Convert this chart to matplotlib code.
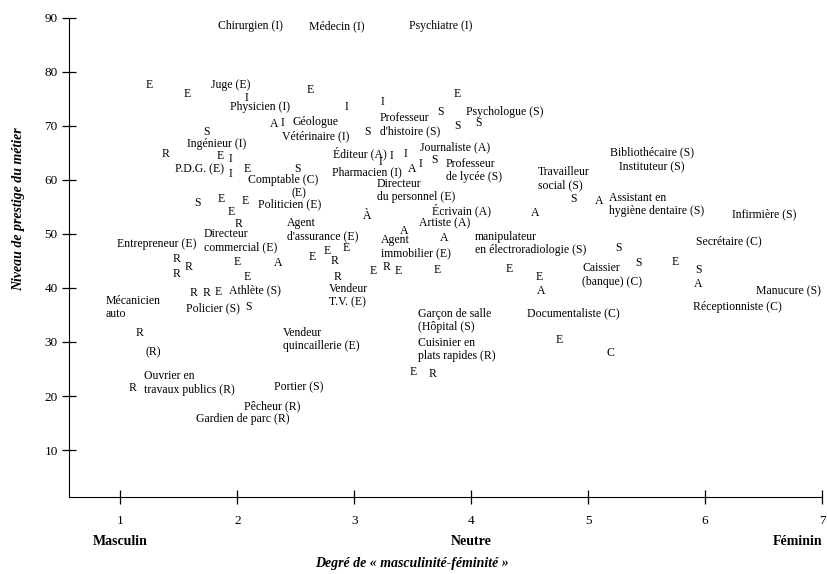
import matplotlib
matplotlib.use("Agg")
import matplotlib.pyplot as plt

plt.rcParams['font.family'] = ['Liberation Serif', 'DejaVu Serif']

# Métiers étiquetés (x = degré de masculinité-féminité, y = prestige)
metiers = [
    "Chirurgien (I)", "Médecin (I)", "Psychiatre (I)", "Juge (E)", "Physicien (I)",
    "Géologue", "Vétérinaire (I)", "Professeur\nd'histoire (S)", "Psychologue (S)",
    "Ingénieur (I)", "P.D.G. (E)", "Comptable (C)", "(E)", "Éditeur (A)",
    "Pharmacien (I)", "Journaliste (A)", "Professeur\nde lycée (S)",
    "Directeur\ndu personnel (E)", "Travailleur\nsocial (S)", "Bibliothécaire (S)",
    "Instituteur (S)", "Assistant en\nhygiène dentaire (S)", "Infirmière (S)",
    "Secrétaire (C)", "Caissier\n(banque) (C)", "Manucure (S)", "Réceptionniste (C)",
    "Documentaliste (C)", "Garçon de salle\n(Hôpital (S)", "Cuisinier en\nplats rapides (R)",
    "Écrivain (A)", "Artiste (A)", "Agent\nimmobilier (E)",
    "manipulateur\nen électroradiologie (S)", "Politicien (E)", "Agent\nd'assurance (E)",
    "Directeur\ncommercial (E)", "Entrepreneur (E)", "Vendeur\nT.V. (E)", "Athlète (S)",
    "Policier (S)", "Mécanicien\nauto", "(R)", "Vendeur\nquincaillerie (E)",
    "Ouvrier en\ntravaux publics (R)", "Portier (S)", "Pêcheur (R)", "Gardien de parc (R)",
]
x_metiers = [
    2.108, 2.852, 3.742, 1.945, 2.193,
    2.672, 2.672, 3.22, 4.289,
    1.825, 1.672, 2.390, 2.527, 3.049,
    3.109, 3.861, 3.785,
    3.194, 4.571, 5.547,
    5.547, 5.179, 6.504,
    6.205, 4.948, 6.710, 6.273,
    4.871, 3.545, 3.545,
    3.921, 3.776, 3.228,
    4.033, 2.450, 2.424,
    1.714, 1.312, 2.784, 2.151,
    1.791, 0.876, 1.278, 2.390,
    1.201, 2.527, 2.296, 2.048,
]
y_metiers = [
    88.43, 88.43, 88.43, 77.49, 73.41,
    70.63, 68.04, 70.17, 72.49,
    66.56, 61.92, 59.88, 57.47, 64.89,
    61.36, 66.0, 61.74,
    58.03, 60.16, 65.07,
    62.29, 55.43, 53.58,
    48.57, 42.36, 39.30, 36.52,
    35.22, 34.02, 28.55,
    54.32, 51.91, 47.65,
    48.20, 55.43, 50.70,
    48.76, 48.20, 38.65, 39.49,
    36.15, 36.34, 28.18, 30.50,
    22.43, 21.69, 18.17, 15.76,
]

# Métiers non nommés, marqués par leur seul code
codes = [
    "E", "E", "I", "E", "I", "I", "S", "E", "S", "S",
    "A", "I", "S", "S", "R", "E", "I", "I", "E", "S",
    "I", "I", "I", "A", "I", "S", "S", "A", "S", "S",
    "E", "S", "A", "C", "E", "E", "R", "A", "E", "E",
    "E", "E", "R", "E", "À", "A", "A", "A", "E", "E",
    "R", "R", "S", "E", "E", "E", "R", "R", "R", "R",
    "E", "A", "E", "E", "R", "R", "E", "S", "R", "R",
]
x_codes = [
    1.244, 1.569, 2.082, 2.621, 2.929, 3.245, 3.733, 3.879, 3.879, 4.058,
    2.313, 2.390, 3.117, 1.740, 1.389, 1.851, 1.937, 1.937, 2.082, 2.518,
    3.322, 3.442, 3.228, 3.494, 3.562, 3.690, 4.871, 5.093, 5.256, 5.427,
    5.743, 5.940, 5.940, 5.187, 4.751, 3.502, 3.673, 4.597, 4.580, 4.323,
    3.707, 3.374, 3.280, 3.160, 3.109, 4.546, 3.425, 3.767, 2.766, 2.929,
    2.835, 2.861, 1.663, 1.860, 1.945, 2.065, 2.014, 1.483, 1.586, 1.483,
    1.997, 2.347, 2.638, 2.082, 1.629, 1.740, 1.834, 2.099, 1.167, 1.107,
]
y_codes = [
    77.49, 75.83, 75.08, 76.57, 73.41, 74.34, 72.49, 75.83, 69.89, 70.45,
    70.26, 70.45, 68.78, 68.78, 64.70, 64.33, 63.77, 60.99, 61.92, 61.92,
    64.33, 64.70, 63.22, 61.92, 62.85, 63.59, 56.36, 56.17, 47.46, 44.68,
    44.86, 43.38, 40.79, 27.99, 30.40, 24.47, 24.10, 39.49, 42.08, 43.57,
    43.38, 43.20, 43.94, 43.20, 53.39, 53.95, 50.61, 49.31, 46.90, 47.46,
    45.05, 42.08, 55.62, 56.36, 54.13, 56.17, 51.91, 45.42, 43.94, 42.64,
    44.86, 44.68, 45.79, 42.08, 39.12, 39.12, 39.30, 36.52, 31.70, 21.51,
]

poles = ["Masculin", "Neutre", "Féminin"]
x_poles = [1, 4, 7]

fig = plt.figure(figsize=(8.27, 5.74), dpi=100)
ax = fig.add_axes([0.0834, 0.134, 0.9106, 0.8352])

for txt, x, y in zip(metiers, x_metiers, y_metiers):
    if "\n" in txt:
        ax.text(x, y, txt, ha="left", va="center", fontsize=8.5,
                multialignment="left", linespacing=1.15)
    else:
        ax.text(x, y, txt, ha="center", va="center", fontsize=8.5)

for c, x, y in zip(codes, x_codes, y_codes):
    ax.text(x, y, c, ha="center", va="center", fontsize=8.5)

ax.set_xlim(0.56, 7.0)
ax.set_ylim(1.3, 90)
ax.set_xticks(range(1, 8))
ax.set_yticks(range(10, 91, 10))
ax.spines["top"].set_visible(False)
ax.spines["right"].set_visible(False)
ax.tick_params(direction="inout", length=10, width=0.9, labelsize=9.5)
ax.tick_params(axis="x", pad=8)
ax.tick_params(axis="y", pad=3)

for p, x in zip(poles, x_poles):
    ha = "right" if x == 7 else "center"
    ax.text(x, -0.092, p, transform=ax.get_xaxis_transform(), ha=ha, va="center",
            fontsize=10, fontweight="bold")

ax.set_xlabel("Degré de « masculinité-féminité »", fontsize=10, style="italic",
              fontweight="bold")
ax.xaxis.set_label_coords(0.455, -0.125)
ax.set_ylabel("Niveau de prestige du métier", fontsize=10, style="italic",
              fontweight="bold")
ax.yaxis.set_label_coords(-0.058, 0.6)

plt.savefig("out.png", dpi=100)
